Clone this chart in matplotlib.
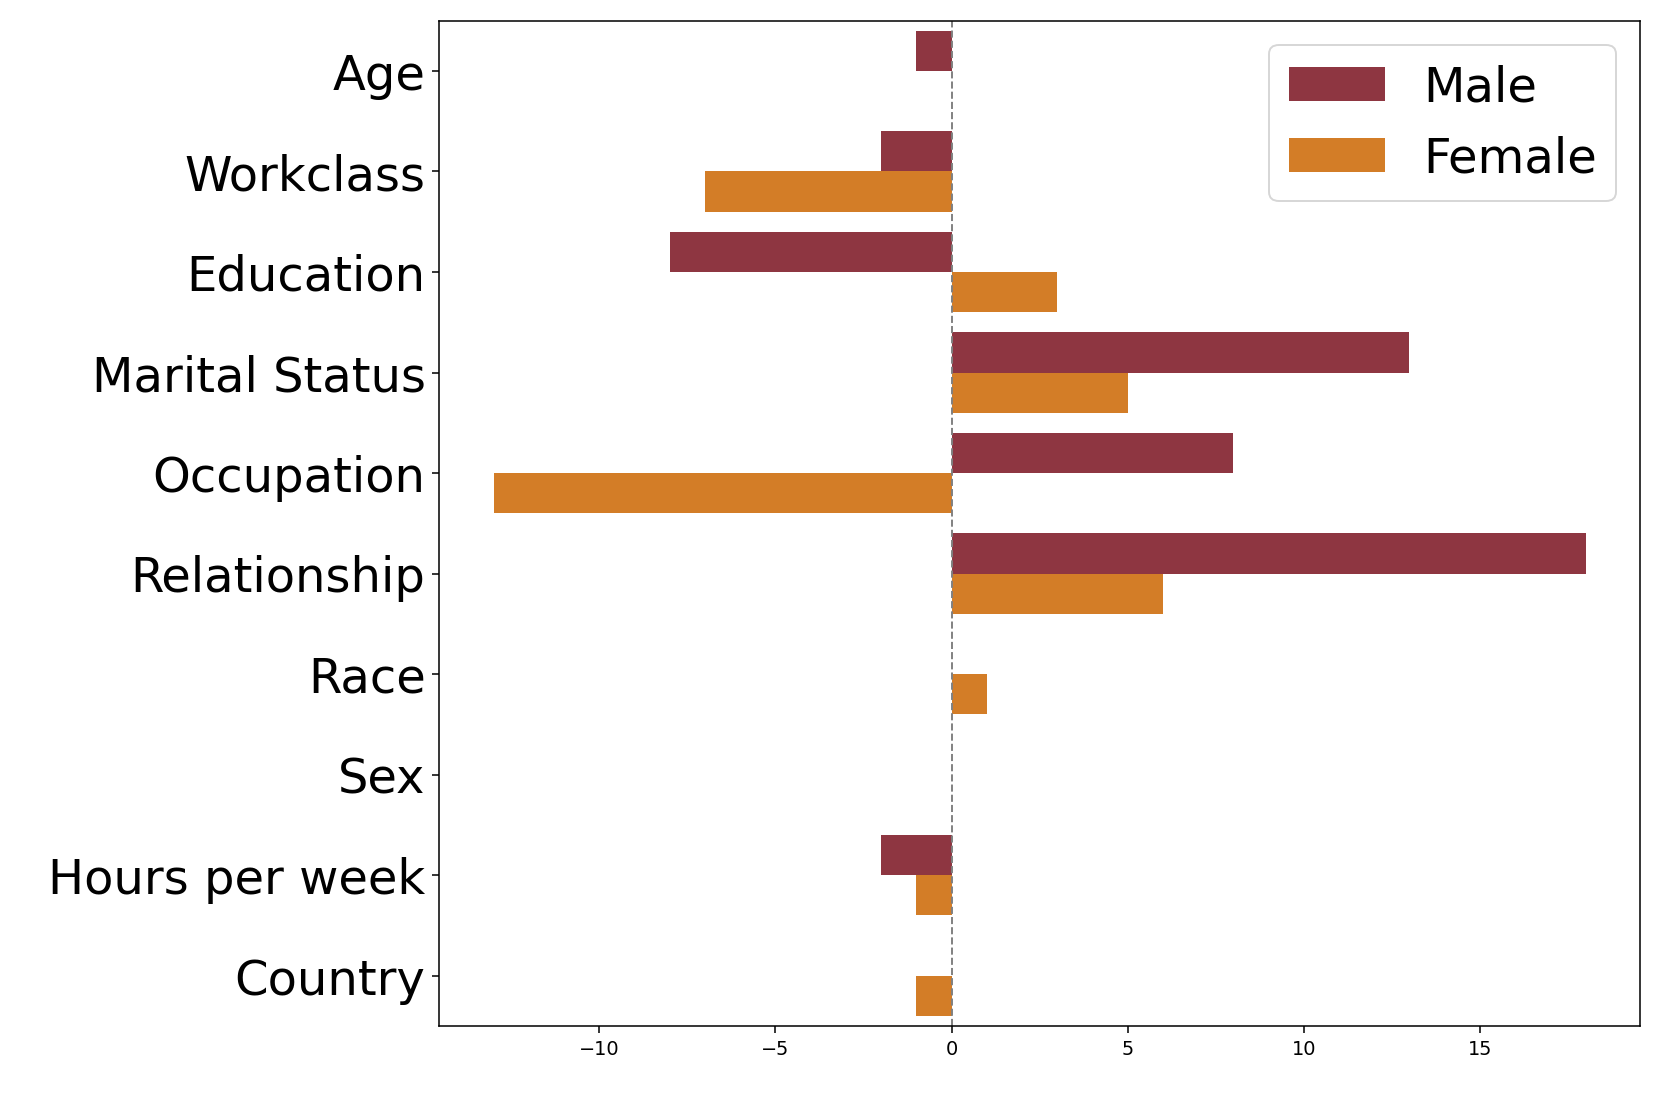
import matplotlib
matplotlib.use("Agg")
import matplotlib.pyplot as plt
import numpy as np

categories = ["Age", "Workclass", "Education", "Marital Status", "Occupation",
              "Relationship", "Race", "Sex", "Hours per week", "Country"]
male = [-1, -2, -8, 13, 8, 18, 0, 0, -2, 0]
female = [0, -7, 3, 5, -13, 6, 1, 0, -1, -1]

male_color = "#8E3641"
female_color = "#D37D27"

fig = plt.figure(figsize=(12, 8), dpi=138.42)
ax = fig.add_axes([0.2643, 0.0732, 0.9874 - 0.2643, 0.981 - 0.0732])

y = np.arange(len(categories))
h = 0.4
ax.barh(y - h / 2, male, height=h, color=male_color, label="Male")
ax.barh(y + h / 2, female, height=h, color=female_color, label="Female")
ax.axvline(0, color="gray", linestyle="--", linewidth=1)

ax.set_yticks(y)
ax.set_yticklabels(categories, fontsize=25)
ax.set_ylim(len(categories) - 0.5, -0.5)
ax.tick_params(axis="x", labelsize=10)
ax.legend(loc="upper right", fontsize=25)

fig.savefig("out.png", dpi=138.42)
